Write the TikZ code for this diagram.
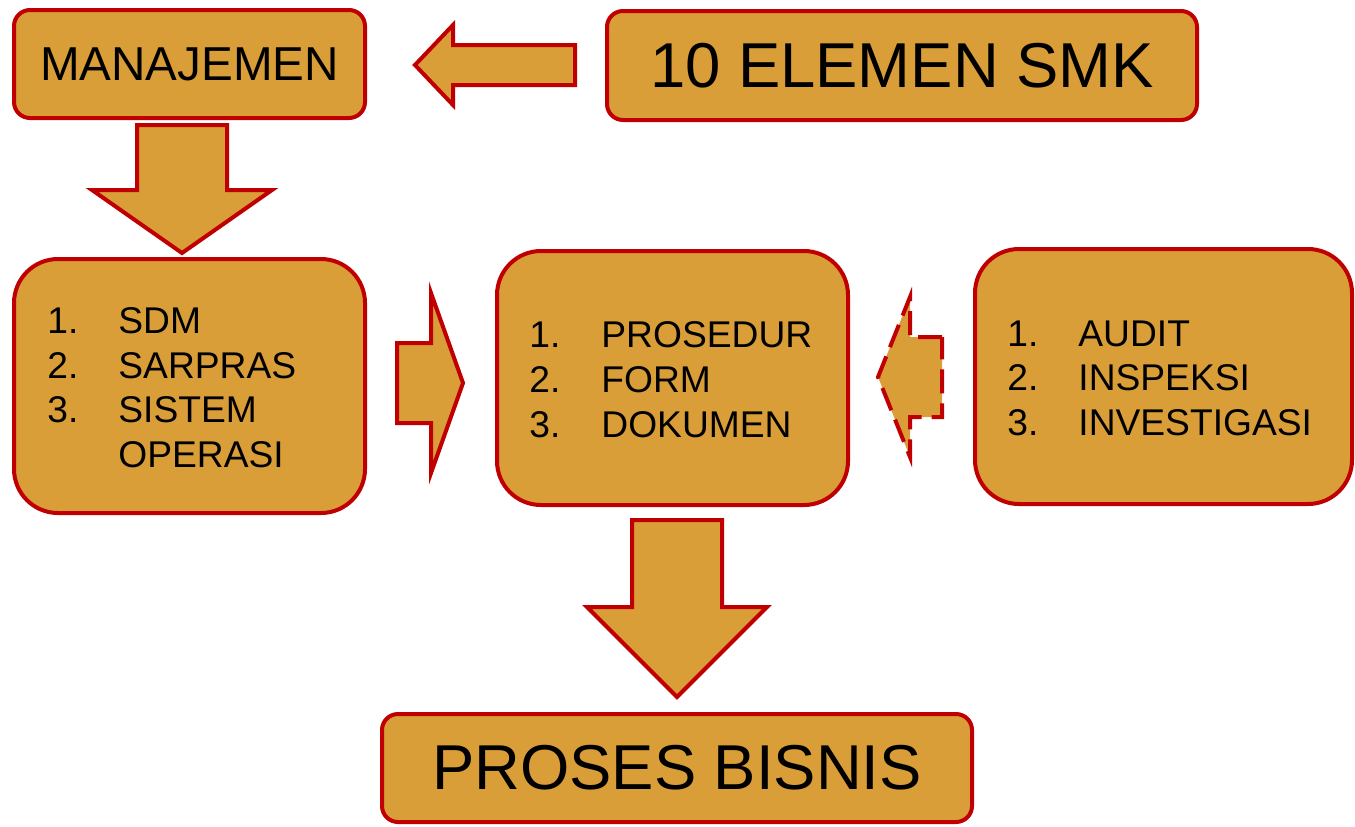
\documentclass[tikz,border=0pt]{standalone}
\usepackage{fontspec}
\setmainfont{Liberation Sans}
\definecolor{gold}{RGB}{217,158,56}
\definecolor{bred}{RGB}{192,0,0}
\begin{document}
\begin{tikzpicture}[x=0.5pt,y=-0.5pt,
  box/.style={draw=bred, fill=gold, line width=2pt, rounded corners=8pt, inner sep=0pt, text=black},
  listbox/.style={box, rounded corners=22pt},
  blockarrow/.style={draw=bred, fill=gold, line width=2pt, line join=miter},
  dasharrow/.style={blockarrow, dash pattern=on 12pt off 5pt},
  bigtext/.style={font=\fontsize{31.7}{38}\selectfont},
  midtext/.style={font=\fontsize{23.8}{28}\selectfont},
  itemtext/.style={font=\fontsize{18.6}{22}\selectfont, anchor=base west, inner sep=0pt, text=black}
]
\useasboundingbox (0,0) rectangle (1355,826);

% boxes
\node[box, midtext, minimum width=175.5pt, minimum height=54pt] (man) at (189.5,64) {MANAJEMEN};
\node[box, bigtext, minimum width=295pt, minimum height=54.5pt] (smk) at (902,65.5) {10 ELEMEN SMK};
\node[box, bigtext, minimum width=295pt, minimum height=54pt] (pb) at (677,768) {PROSES BISNIS};
\node[listbox, minimum width=175.5pt, minimum height=127pt] (left) at (189.5,386) {};
\node[listbox, minimum width=175.5pt, minimum height=127pt] (mid) at (672.5,378) {};
\node[listbox, minimum width=188.5pt, minimum height=127.5pt] (right) at (1163.5,376.5) {};

% block arrows
\draw[blockarrow] (575,45) -- (453,45) -- (453,25) -- (415,65) -- (453,105) -- (453,85) -- (575,85) -- cycle;
\draw[blockarrow] (137,125) -- (227,125) -- (227,190) -- (272,190) -- (182,253) -- (92,190) -- (137,190) -- cycle;
\draw[blockarrow] (397,343) -- (431,343) -- (431,293) -- (463,383) -- (431,473) -- (431,423) -- (397,423) -- cycle;
\draw[dasharrow] (942,337) -- (910,337) -- (910,297) -- (878,377) -- (910,457) -- (910,417) -- (942,417) -- cycle;
\draw[blockarrow] (632,520) -- (722,520) -- (722,607) -- (767,607) -- (677,697) -- (587,607) -- (632,607) -- cycle;

% left list
\node[itemtext] (l1n) at (47,333) {1.};
\node[itemtext] (l1t) at (118,333) {SDM};
\node[itemtext] (l2n) at (47,378) {2.};
\node[itemtext] (l2t) at (118,378) {SARPRAS};
\node[itemtext] (l3n) at (47,422) {3.};
\node[itemtext] (l3t) at (118,422) {SISTEM};
\node[itemtext] (l4t) at (118,467) {OPERASI};

% middle list
\node[itemtext] (m1n) at (529,347) {1.};
\node[itemtext] (m1t) at (601,347) {PROSEDUR};
\node[itemtext] (m2n) at (529,392) {2.};
\node[itemtext] (m2t) at (601,392) {FORM};
\node[itemtext] (m3n) at (529,437) {3.};
\node[itemtext] (m3t) at (601,437) {DOKUMEN};

% right list
\node[itemtext] (r1n) at (1007,346) {1.};
\node[itemtext] (r1t) at (1078,346) {AUDIT};
\node[itemtext] (r2n) at (1007,390) {2.};
\node[itemtext] (r2t) at (1078,390) {INSPEKSI};
\node[itemtext] (r3n) at (1007,435) {3.};
\node[itemtext] (r3t) at (1078,435) {INVESTIGASI};
\end{tikzpicture}
\end{document}
